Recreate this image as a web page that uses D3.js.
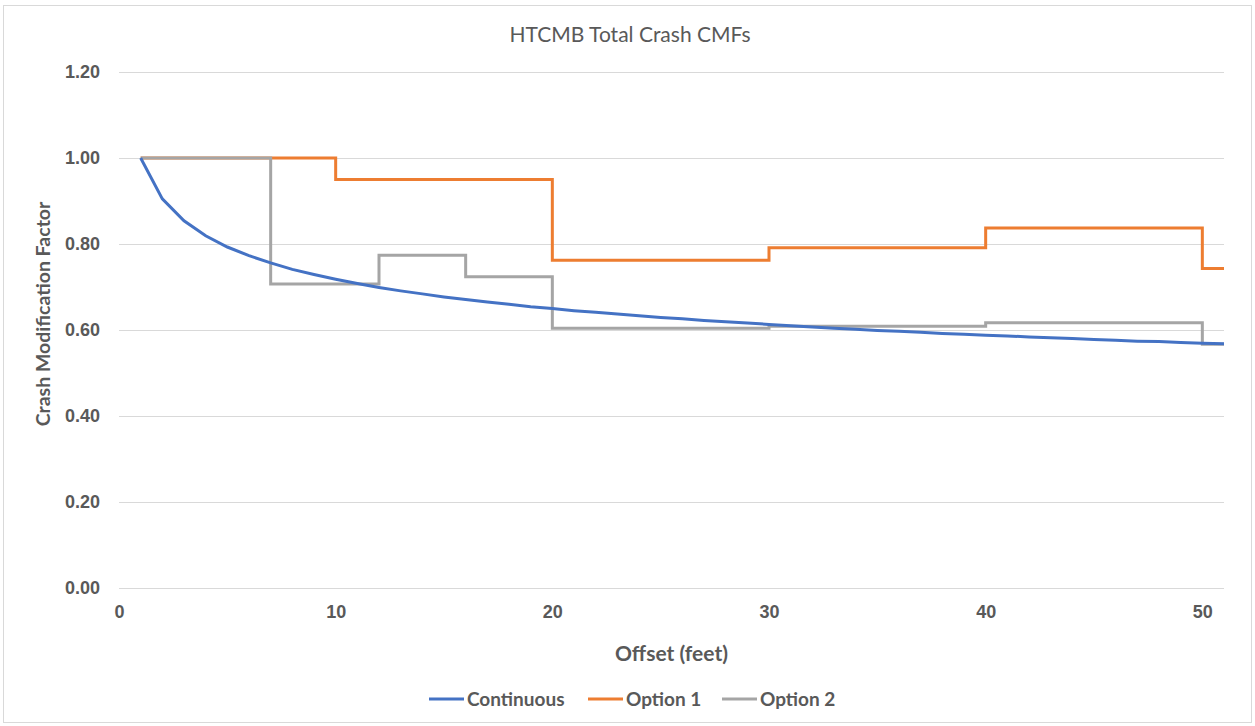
<!DOCTYPE html>
<html>
<head>
<meta charset="utf-8">
<script src="https://cdn.jsdelivr.net/npm/d3@7"></script>
<style>
  body { margin: 0; background: #fff; }
  svg { display: block; font-family: Lato, "Open Sans", sans-serif; }
</style>
</head>
<body>
<svg width="1255" height="726"></svg>
<script>
// continuous CMF read at each whole foot of offset
const offsets = d3.range(1, 52);
const continuous = [
  1.000, 0.905, 0.854, 0.819, 0.793, 0.773, 0.756, 0.741, 0.729, 0.718,
  0.708, 0.699, 0.691, 0.684, 0.677, 0.671, 0.665, 0.660, 0.654, 0.650,
  0.645, 0.641, 0.637, 0.633, 0.629, 0.626, 0.622, 0.619, 0.616, 0.613,
  0.610, 0.607, 0.604, 0.602, 0.599, 0.597, 0.595, 0.592, 0.590, 0.588,
  0.586, 0.584, 0.582, 0.580, 0.578, 0.576, 0.574, 0.573, 0.571, 0.569,
  0.568
];

// step series: value holds from each break until the next one
const option1Breaks = [1, 10, 20, 30, 40, 50, 51];
const option1 = [1.000, 0.950, 0.762, 0.791, 0.837, 0.743, 0.743];

const option2Breaks = [1, 7, 12, 16, 20, 30, 40, 50, 51];
const option2 = [1.000, 0.707, 0.774, 0.724, 0.604, 0.609, 0.617, 0.567, 0.567];

const yTicks = [0, 0.2, 0.4, 0.6, 0.8, 1.0, 1.2];
const xTicks = [0, 10, 20, 30, 40, 50];

const seriesNames = ['Continuous', 'Option 1', 'Option 2'];
const colors = ['#4472C4', '#ED7D31', '#A5A5A5'];

const svg = d3.select('svg');
const textColor = '#595959';

// chart frame
svg.append('rect')
  .attr('x', 3.5).attr('y', 5.5)
  .attr('width', 1248).attr('height', 717)
  .attr('fill', 'none')
  .attr('stroke', '#D9D9D9');

const margin = { left: 119, right: 1224, top: 72, bottom: 588 };

const x = d3.scaleLinear().domain([0, 51]).range([margin.left, margin.right]);
const y = d3.scaleLinear().domain([0, 1.2]).range([margin.bottom, margin.top]);

// gridlines
svg.append('g')
  .selectAll('line')
  .data(yTicks)
  .enter()
  .append('line')
  .attr('x1', margin.left)
  .attr('x2', margin.right)
  .attr('y1', d => Math.round(y(d)) + 0.5)
  .attr('y2', d => Math.round(y(d)) + 0.5)
  .attr('stroke', '#D9D9D9')
  .attr('stroke-width', 1);

// y axis labels
const yAxis = svg.append('g')
  .attr('transform', `translate(${margin.left - 13},0)`)
  .call(d3.axisLeft(y).tickValues(yTicks).tickFormat(d3.format('.2f')).tickSize(0).tickPadding(6));
yAxis.select('.domain').remove();
yAxis.selectAll('text')
  .attr('fill', textColor)
  .style('font-size', '18px')
  .style('font-weight', 'bold');

// x axis labels
const xAxis = svg.append('g')
  .attr('transform', `translate(0,${margin.bottom + 14})`)
  .call(d3.axisBottom(x).tickValues(xTicks).tickFormat(d3.format('d')).tickSize(0).tickPadding(3));
xAxis.select('.domain').remove();
xAxis.selectAll('text')
  .attr('fill', textColor)
  .style('font-size', '18px')
  .style('font-weight', 'bold');

// titles
svg.append('text')
  .attr('x', 630).attr('y', 42)
  .attr('text-anchor', 'middle')
  .attr('fill', textColor)
  .style('font-size', '21px')
  .text('HTCMB Total Crash CMFs');

svg.append('text')
  .attr('x', (margin.left + margin.right) / 2).attr('y', 661)
  .attr('text-anchor', 'middle')
  .attr('fill', textColor)
  .style('font-size', '21px')
  .style('font-weight', 'bold')
  .text('Offset (feet)');

svg.append('text')
  .attr('transform', 'translate(50,314) rotate(-90)')
  .attr('text-anchor', 'middle')
  .attr('fill', textColor)
  .style('font-size', '19.5px')
  .style('font-weight', 'bold')
  .text('Crash Modification Factor');

// series lines
const smooth = d3.line()
  .x((d, i) => x(offsets[i]))
  .y(d => y(d));

function stepLine(breaks) {
  return d3.line()
    .x((d, i) => x(breaks[i]))
    .y(d => y(d))
    .curve(d3.curveStepAfter);
}

const plot = svg.append('g').attr('fill', 'none').attr('stroke-width', 3);

plot.append('path')
  .attr('d', stepLine(option1Breaks)(option1))
  .attr('stroke', colors[1]);

plot.append('path')
  .attr('d', stepLine(option2Breaks)(option2))
  .attr('stroke', colors[2]);

plot.append('path')
  .attr('d', smooth(continuous))
  .attr('stroke', colors[0]);

// legend
const legendX = [429, 588, 722];
const legend = svg.append('g')
  .selectAll('g')
  .data(seriesNames)
  .enter()
  .append('g')
  .attr('transform', (d, i) => `translate(${legendX[i]},699)`);

legend.append('line')
  .attr('x1', 0).attr('x2', 35)
  .attr('stroke', (d, i) => colors[i])
  .attr('stroke-width', 3);

legend.append('text')
  .attr('x', 38)
  .attr('dy', '0.35em')
  .attr('fill', textColor)
  .style('font-size', '19px')
  .style('font-weight', 'bold')
  .text(d => d);
</script>
</body>
</html>
